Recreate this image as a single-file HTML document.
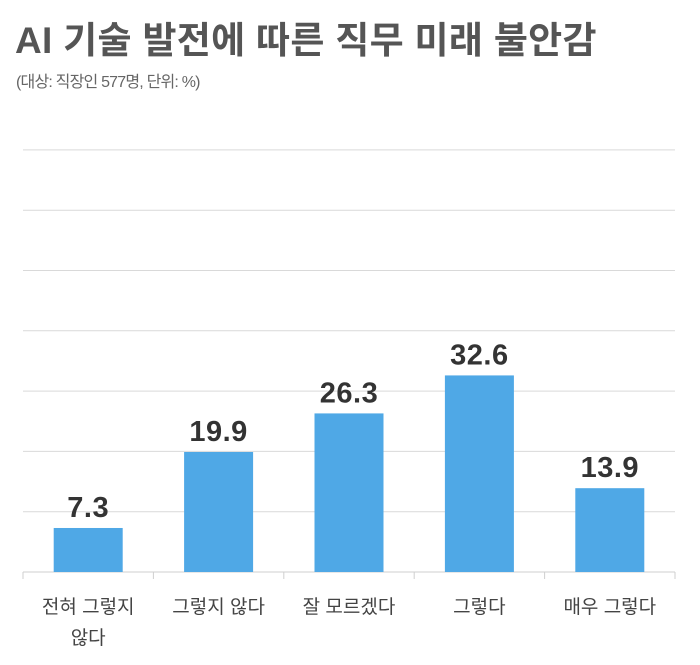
<!DOCTYPE html>
<html><head><meta charset="utf-8"><style>
body{margin:0;background:#fff;width:700px;height:665px;overflow:hidden;font-family:"Liberation Sans","Noto Sans CJK KR",sans-serif}
#title{position:absolute;left:15px;top:10px;font-size:37px;font-weight:bold;color:#555;letter-spacing:0.3px;margin:0;white-space:nowrap}
#sub{position:absolute;left:16px;top:68px;font-size:16px;color:#666;letter-spacing:-0.8px;white-space:nowrap}
</style></head><body>
<h1 id="title">AI 기술 발전에 따른 직무 미래 불안감</h1>
<div id="sub">(대상: 직장인 577명, 단위: %)</div>
<svg id="chart" width="700" height="665" style="position:absolute;left:0;top:0"></svg>
<script>
const categories=[["전혀 그렇지","않다"],["그렇지 않다"],["잘 모르겠다"],["그렇다"],["매우 그렇다"]];
const values=[7.3,19.9,26.3,32.6,13.9];
const valueLabels=["7.3","19.9","26.3","32.6","13.9"];
const gridValues=[10,20,30,40,50,60,70];
const NS="http://www.w3.org/2000/svg";
const svg=document.getElementById('chart');
const x0=23,x1=675,y0=572,pxPerUnit=6.03;
const bw=(x1-x0)/categories.length;
const y=v=>y0-v*pxPerUnit;
const xc=i=>x0+bw*(i+0.5);
function mk(t,a){const e=document.createElementNS(NS,t);for(const k in a)e.setAttribute(k,a[k]);svg.appendChild(e);return e;}
gridValues.forEach(g=>{
 const l=mk('line',{x1:x0,x2:x1,y1:y(g),y2:y(g),stroke:'#d9d9d9','stroke-width':1});
 
 
});
const ax=mk('line',{x1:x0,x2:x1,y1:y0,y2:y0,stroke:'#cfcfcf','stroke-width':1});


for(let i=0;i<=categories.length;i++){
 const t=mk('line',{x1:x0+bw*i,x2:x0+bw*i,y1:y0,y2:y0+7,stroke:'#cfcfcf'});
 
 
}
values.forEach((v,i)=>{
 const r=mk('rect',{x:xc(i)-34.5,y:y(v),width:69,height:y0-y(v),fill:'#4fa8e6'});
 
 
 const t=mk('text',{x:xc(i),y:y(v)-11,'text-anchor':'middle','font-size':29,'font-weight':'bold',fill:'#333','letter-spacing':'0.5'});
 t.textContent=valueLabels[i];
 
 
 categories[i].forEach((line,j)=>{
  const c=mk('text',{x:xc(i),y:613+j*31,'text-anchor':'middle','font-size':19,fill:'#444'});
  c.textContent=line;
  
  
 });
});
</script>
</body></html>
